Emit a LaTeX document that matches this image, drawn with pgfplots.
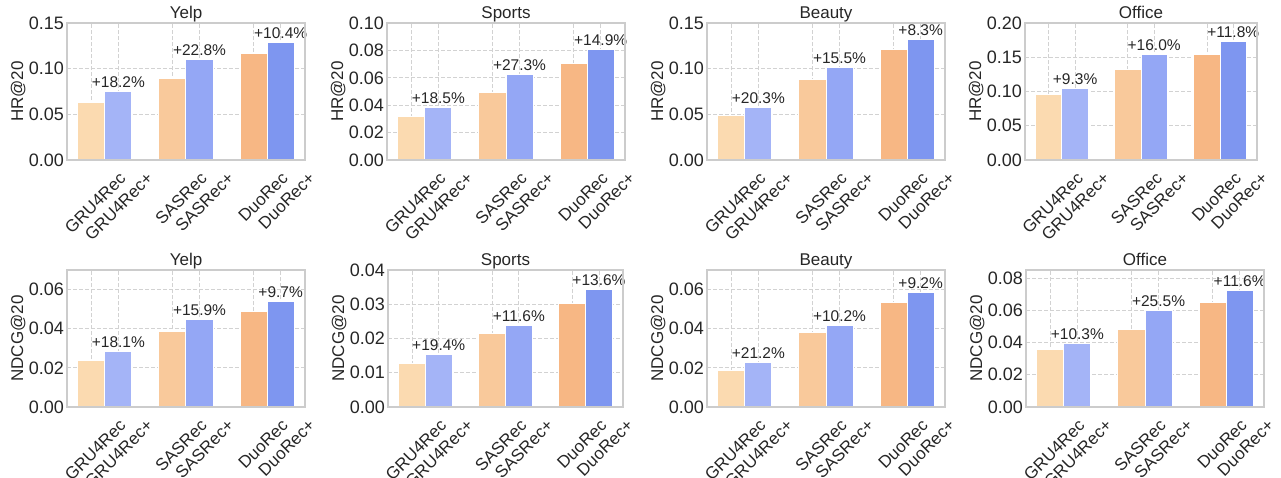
\documentclass[border=0pt]{standalone}
\usepackage{fontspec}
\setmainfont{Liberation Sans}
\usepackage{pgfplots}
\pgfplotsset{compat=1.18}

\definecolor{c1}{HTML}{FBDAB0}
\definecolor{c2}{HTML}{A4B4F7}
\definecolor{c3}{HTML}{F9C99B}
\definecolor{c4}{HTML}{94A7F5}
\definecolor{c5}{HTML}{F7B784}
\definecolor{c6}{HTML}{7E96F0}
\definecolor{framec}{HTML}{CCCCCC}
\definecolor{gridc}{HTML}{D2D2D2}
\definecolor{txt}{HTML}{262626}

\pgfplotsset{
  b/.style={ybar, bar width=1, bar shift=0pt, fill=#1, draw=white, line width=1pt},
  panel/.style={
    scale only axis, height=137pt, anchor=north west,
    xmin=-0.9, xmax=7.9, ymin=0,
    xtick={0,1,3,4,6,7},
    xticklabels={GRU4Rec,GRU4Rec+,SASRec,SASRec+,DuoRec,DuoRec+},
    xmajorgrids, ymajorgrids,
    grid style={gridc, line width=0.8pt, dash pattern=on 4pt off 2pt},
    axis line style={framec, line width=1.3pt},
    major tick length=0pt, tick style={draw=none},
    scaled y ticks=false,
    yticklabel style={font=\fontsize{18}{20}\selectfont, text=txt, inner sep=0pt, xshift=-3pt,
      /pgf/number format/fixed, /pgf/number format/fixed zerofill,
      /pgf/number format/precision=2, /pgf/number format/assume math mode=true},
    xticklabel style={font=\fontsize{17}{19}\selectfont, text=txt, inner sep=0pt,
      xshift=27pt, yshift=-11pt, rotate=45, anchor=north east},
    every axis title/.style={at={(axis description cs:0.5,1)}, anchor=base, yshift=5pt},
    title style={font=\fontsize{17}{20}\selectfont, text=txt, inner sep=0pt},
    clip=false,
  },
}
\tikzset{gain/.style={anchor=base, yshift=4pt, inner sep=0pt, font=\fontsize{15.5}{18}\selectfont, text=txt},
  frame/.style={framec, line width=1.3pt},
  ylab/.style={xshift=-44pt, rotate=90, anchor=base, inner sep=0pt, text=txt,
    font=\fontsize{17}{20}\selectfont}}
\newcommand\ylab[1]{\node[ylab] at (rel axis cs:0,0.5) {#1};}

\begin{document}
\begin{tikzpicture}
\useasboundingbox (0,0) rectangle (1281pt,-477pt);

% ---- HR@20 ----
\begin{axis}[panel, at={(67pt,-23pt)}, width=238pt, title=Yelp,
  ymax=0.15, ytick={0,0.05,0.1,0.15}]
\addplot[b=c1] coordinates {(0,0.0633)};
\addplot[b=c2] coordinates {(1,0.0749)};
\addplot[b=c3] coordinates {(3,0.0894)};
\addplot[b=c4] coordinates {(4,0.1097)};
\addplot[b=c5] coordinates {(6,0.1170)};
\addplot[b=c6] coordinates {(7,0.1292)};
\node[gain] at (axis cs:1,0.0749) {+18.2\%};
\node[gain] at (axis cs:4,0.1097) {+22.8\%};
\node[gain] at (axis cs:7,0.1292) {+10.4\%};
\ylab{HR@20}
\draw[frame] (rel axis cs:0,0) rectangle (rel axis cs:1,1);
\end{axis}

\begin{axis}[panel, at={(387pt,-23pt)}, width=238pt, title=Sports,
  ymax=0.10, ytick={0,0.02,0.04,0.06,0.08,0.10}]
\addplot[b=c1] coordinates {(0,0.0320)};
\addplot[b=c2] coordinates {(1,0.0380)};
\addplot[b=c3] coordinates {(3,0.0490)};
\addplot[b=c4] coordinates {(4,0.0626)};
\addplot[b=c5] coordinates {(6,0.0702)};
\addplot[b=c6] coordinates {(7,0.0807)};
\node[gain] at (axis cs:1,0.0380) {+18.5\%};
\node[gain] at (axis cs:4,0.0626) {+27.3\%};
\node[gain] at (axis cs:7,0.0807) {+14.9\%};
\ylab{HR@20}
\draw[frame] (rel axis cs:0,0) rectangle (rel axis cs:1,1);
\end{axis}

\begin{axis}[panel, at={(707pt,-23pt)}, width=238pt, title=Beauty,
  ymax=0.15, ytick={0,0.05,0.1,0.15}]
\addplot[b=c1] coordinates {(0,0.0482)};
\addplot[b=c2] coordinates {(1,0.0580)};
\addplot[b=c3] coordinates {(3,0.0880)};
\addplot[b=c4] coordinates {(4,0.1016)};
\addplot[b=c5] coordinates {(6,0.1215)};
\addplot[b=c6] coordinates {(7,0.1317)};
\node[gain] at (axis cs:1,0.0580) {+20.3\%};
\node[gain] at (axis cs:4,0.1016) {+15.5\%};
\node[gain] at (axis cs:7,0.1317) {+8.3\%};
\ylab{HR@20}
\draw[frame] (rel axis cs:0,0) rectangle (rel axis cs:1,1);
\end{axis}

\begin{axis}[panel, at={(1025pt,-23pt)}, width=232pt, title=Office,
  ymax=0.20, ytick={0,0.05,0.1,0.15,0.2}]
\addplot[b=c1] coordinates {(0,0.0951)};
\addplot[b=c2] coordinates {(1,0.1039)};
\addplot[b=c3] coordinates {(3,0.1322)};
\addplot[b=c4] coordinates {(4,0.1535)};
\addplot[b=c5] coordinates {(6,0.1546)};
\addplot[b=c6] coordinates {(7,0.1727)};
\node[gain] at (axis cs:1,0.1039) {+9.3\%};
\node[gain] at (axis cs:4,0.1535) {+16.0\%};
\node[gain] at (axis cs:7,0.1727) {+11.8\%};
\ylab{HR@20}
\draw[frame] (rel axis cs:0,0) rectangle (rel axis cs:1,1);
\end{axis}

% ---- NDCG@20 ----
\begin{axis}[panel, at={(67pt,-270pt)}, width=238pt, title=Yelp,
  ymax=0.07, ytick={0,0.02,0.04,0.06}]
\addplot[b=c1] coordinates {(0,0.0238)};
\addplot[b=c2] coordinates {(1,0.0283)};
\addplot[b=c3] coordinates {(3,0.0388)};
\addplot[b=c4] coordinates {(4,0.0449)};
\addplot[b=c5] coordinates {(6,0.0490)};
\addplot[b=c6] coordinates {(7,0.0537)};
\node[gain] at (axis cs:1,0.0283) {+18.1\%};
\node[gain] at (axis cs:4,0.0449) {+15.9\%};
\node[gain] at (axis cs:7,0.0537) {+9.7\%};
\ylab{NDCG@20}
\draw[frame] (rel axis cs:0,0) rectangle (rel axis cs:1,1);
\end{axis}

\begin{axis}[panel, at={(388pt,-270pt)}, width=235pt, title=Sports,
  ymax=0.04, ytick={0,0.01,0.02,0.03,0.04}]
\addplot[b=c1] coordinates {(0,0.0127)};
\addplot[b=c2] coordinates {(1,0.0152)};
\addplot[b=c3] coordinates {(3,0.0215)};
\addplot[b=c4] coordinates {(4,0.0239)};
\addplot[b=c5] coordinates {(6,0.0301)};
\addplot[b=c6] coordinates {(7,0.0342)};
\node[gain] at (axis cs:1,0.0152) {+19.4\%};
\node[gain] at (axis cs:4,0.0239) {+11.6\%};
\node[gain] at (axis cs:7,0.0342) {+13.6\%};
\ylab{NDCG@20}
\draw[frame] (rel axis cs:0,0) rectangle (rel axis cs:1,1);
\end{axis}

\begin{axis}[panel, at={(707pt,-270pt)}, width=238pt, title=Beauty,
  ymax=0.07, ytick={0,0.02,0.04,0.06}]
\addplot[b=c1] coordinates {(0,0.0188)};
\addplot[b=c2] coordinates {(1,0.0227)};
\addplot[b=c3] coordinates {(3,0.0380)};
\addplot[b=c4] coordinates {(4,0.0419)};
\addplot[b=c5] coordinates {(6,0.0534)};
\addplot[b=c6] coordinates {(7,0.0583)};
\node[gain] at (axis cs:1,0.0227) {+21.2\%};
\node[gain] at (axis cs:4,0.0419) {+10.2\%};
\node[gain] at (axis cs:7,0.0583) {+9.2\%};
\ylab{NDCG@20}
\draw[frame] (rel axis cs:0,0) rectangle (rel axis cs:1,1);
\end{axis}

\begin{axis}[panel, at={(1026pt,-270pt)}, width=238pt, title=Office,
  ymax=0.085, ytick={0,0.02,0.04,0.06,0.08}]
\addplot[b=c1] coordinates {(0,0.0358)};
\addplot[b=c2] coordinates {(1,0.0395)};
\addplot[b=c3] coordinates {(3,0.0480)};
\addplot[b=c4] coordinates {(4,0.0601)};
\addplot[b=c5] coordinates {(6,0.0649)};
\addplot[b=c6] coordinates {(7,0.0725)};
\node[gain] at (axis cs:1,0.0395) {+10.3\%};
\node[gain] at (axis cs:4,0.0601) {+25.5\%};
\node[gain] at (axis cs:7,0.0725) {+11.6\%};
\ylab{NDCG@20}
\draw[frame] (rel axis cs:0,0) rectangle (rel axis cs:1,1);
\end{axis}
\end{tikzpicture}
\end{document}
